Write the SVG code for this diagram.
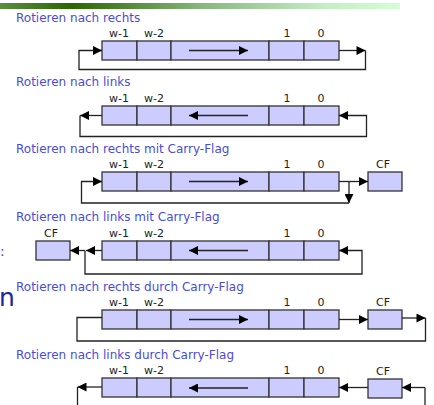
<svg xmlns="http://www.w3.org/2000/svg" width="434" height="405" viewBox="0 0 434 405">
<defs>
<linearGradient id="bar" x1="0" y1="0" x2="1" y2="0">
<stop offset="0" stop-color="#5a8e40"/>
<stop offset="0.18" stop-color="#2c6600"/>
<stop offset="0.5" stop-color="#86b67c"/>
<stop offset="0.8" stop-color="#c2ecc2"/>
<stop offset="1" stop-color="#d4ffd4"/>
</linearGradient>
<marker id="ah" viewBox="0 0 10 10" refX="10" refY="5" markerWidth="10" markerHeight="9" markerUnits="userSpaceOnUse" orient="auto">
<path d="M0,0 L10,5 L0,10 z" fill="#000"/>
</marker>
</defs>
<style>
.title{font-family:"DejaVu Sans",sans-serif;font-size:12px;fill:#4b4bd8}
.lbl{font-family:"DejaVu Sans",sans-serif;font-size:11px;fill:#222;text-anchor:middle}
.cell{fill:#ccccff;stroke:#333;stroke-width:1.3}
.ln{fill:none;stroke:#222;stroke-width:1.3}
.arr{fill:none;stroke:#222;stroke-width:1.3;marker-end:url(#ah)}
</style>
<rect x="0" y="3" width="400" height="6" fill="url(#bar)"/>
<text x="0" y="256" style="font-family:'DejaVu Sans',sans-serif;font-size:14px;fill:#4b4bd8">:</text>
<text x="-1" y="306" style="font-family:'DejaVu Sans',sans-serif;font-size:25px;fill:#2424a0">n</text>

<text class="title" x="16" y="22">Rotieren nach rechts</text>
<text class="title" x="16" y="86">Rotieren nach links</text>
<text class="title" x="16" y="153">Rotieren nach rechts mit Carry-Flag</text>
<text class="title" x="16" y="221">Rotieren nach links mit Carry-Flag</text>
<text class="title" x="16" y="291">Rotieren nach rechts durch Carry-Flag</text>
<text class="title" x="16" y="359">Rotieren nach links durch Carry-Flag</text>

<g id="reg1" transform="translate(0,41)">
<rect class="cell" x="102" y="0" width="35" height="19"/><rect class="cell" x="137" y="0" width="34" height="19"/><rect class="cell" x="171" y="0" width="98" height="19"/><rect class="cell" x="269" y="0" width="35" height="19"/><rect class="cell" x="304" y="0" width="35" height="19"/>
<text class="lbl" x="119" y="-4">w-1</text><text class="lbl" x="154" y="-4">w-2</text><text class="lbl" x="287" y="-4">1</text><text class="lbl" x="321" y="-4">0</text>
</g>
<g id="reg2" transform="translate(0,106)">
<rect class="cell" x="102" y="0" width="35" height="19"/><rect class="cell" x="137" y="0" width="34" height="19"/><rect class="cell" x="171" y="0" width="98" height="19"/><rect class="cell" x="269" y="0" width="35" height="19"/><rect class="cell" x="304" y="0" width="35" height="19"/>
<text class="lbl" x="119" y="-4">w-1</text><text class="lbl" x="154" y="-4">w-2</text><text class="lbl" x="287" y="-4">1</text><text class="lbl" x="321" y="-4">0</text>
</g>
<g id="reg3" transform="translate(0,172)">
<rect class="cell" x="102" y="0" width="35" height="19"/><rect class="cell" x="137" y="0" width="34" height="19"/><rect class="cell" x="171" y="0" width="98" height="19"/><rect class="cell" x="269" y="0" width="35" height="19"/><rect class="cell" x="304" y="0" width="35" height="19"/>
<text class="lbl" x="119" y="-4">w-1</text><text class="lbl" x="154" y="-4">w-2</text><text class="lbl" x="287" y="-4">1</text><text class="lbl" x="321" y="-4">0</text>
</g>
<g id="cf3"><rect class="cell" x="368" y="172" width="34" height="19"/><text class="lbl" x="383" y="168">CF</text></g>
<g id="reg4" transform="translate(0,241)">
<rect class="cell" x="102" y="0" width="35" height="19"/><rect class="cell" x="137" y="0" width="34" height="19"/><rect class="cell" x="171" y="0" width="98" height="19"/><rect class="cell" x="269" y="0" width="35" height="19"/><rect class="cell" x="304" y="0" width="35" height="19"/>
<text class="lbl" x="119" y="-4">w-1</text><text class="lbl" x="154" y="-4">w-2</text><text class="lbl" x="287" y="-4">1</text><text class="lbl" x="321" y="-4">0</text>
</g>
<g id="cf4"><rect class="cell" x="36" y="241" width="34" height="19"/><text class="lbl" x="51" y="237">CF</text></g>
<g id="reg5" transform="translate(0,310)">
<rect class="cell" x="102" y="0" width="35" height="19"/><rect class="cell" x="137" y="0" width="34" height="19"/><rect class="cell" x="171" y="0" width="98" height="19"/><rect class="cell" x="269" y="0" width="35" height="19"/><rect class="cell" x="304" y="0" width="35" height="19"/>
<text class="lbl" x="119" y="-4">w-1</text><text class="lbl" x="154" y="-4">w-2</text><text class="lbl" x="287" y="-4">1</text><text class="lbl" x="321" y="-4">0</text>
</g>
<g id="cf5"><rect class="cell" x="368" y="310" width="34" height="19"/><text class="lbl" x="383" y="306">CF</text></g>
<g id="reg6" transform="translate(0,378)">
<rect class="cell" x="102" y="0" width="35" height="19"/><rect class="cell" x="137" y="0" width="34" height="19"/><rect class="cell" x="171" y="0" width="98" height="19"/><rect class="cell" x="269" y="0" width="35" height="19"/><rect class="cell" x="304" y="0" width="35" height="19"/>
<text class="lbl" x="119" y="-4">w-1</text><text class="lbl" x="154" y="-4">w-2</text><text class="lbl" x="287" y="-4">1</text><text class="lbl" x="321" y="-4">0</text>
</g>
<g id="cf6"><rect class="cell" x="368" y="379" width="34" height="19"/><text class="lbl" x="383" y="375">CF</text></g>

<g id="connectors">
<path class="arr" d="M189,50.5 H248"/>
<path class="arr" d="M339,50.5 H365.5"/>
<path class="arr" d="M365.5,50.5 V69.5 H79 V50.5 H102"/>

<path class="arr" d="M248,115.5 H189"/>
<path class="arr" d="M102,115.5 H80"/>
<path class="arr" d="M80,115.5 V136.5 H366.5 V115.5 H339"/>

<path class="arr" d="M189,181.5 H248"/>
<path class="arr" d="M339,181.5 H368"/>
<path class="arr" d="M349,181.5 V203"/>
<path class="arr" d="M349,203 H81.5 V181.5 H102"/>

<path class="arr" d="M248,250.5 H189"/>
<path class="arr" d="M102,250.5 H86"/>
<path class="arr" d="M85,250.5 H70"/>
<path class="arr" d="M85,250.5 V274 H362 V250.5 H339"/>

<path class="arr" d="M189,319.5 H248"/>
<path class="arr" d="M339,319.5 H368"/>
<path class="arr" d="M402,318 H425.5"/>
<path class="ln" d="M425.5,318 V341 H77 V317.5 H102"/>

<path class="arr" d="M248,388 H189"/>
<path class="arr" d="M102,387 H77.5"/>
<path class="ln" d="M77.5,387 V405"/>
<path class="arr" d="M368,387.5 H339"/>
<path class="arr" d="M425,387.5 H402"/>
<path class="ln" d="M425,387.5 V405"/>
</g>
</svg>
